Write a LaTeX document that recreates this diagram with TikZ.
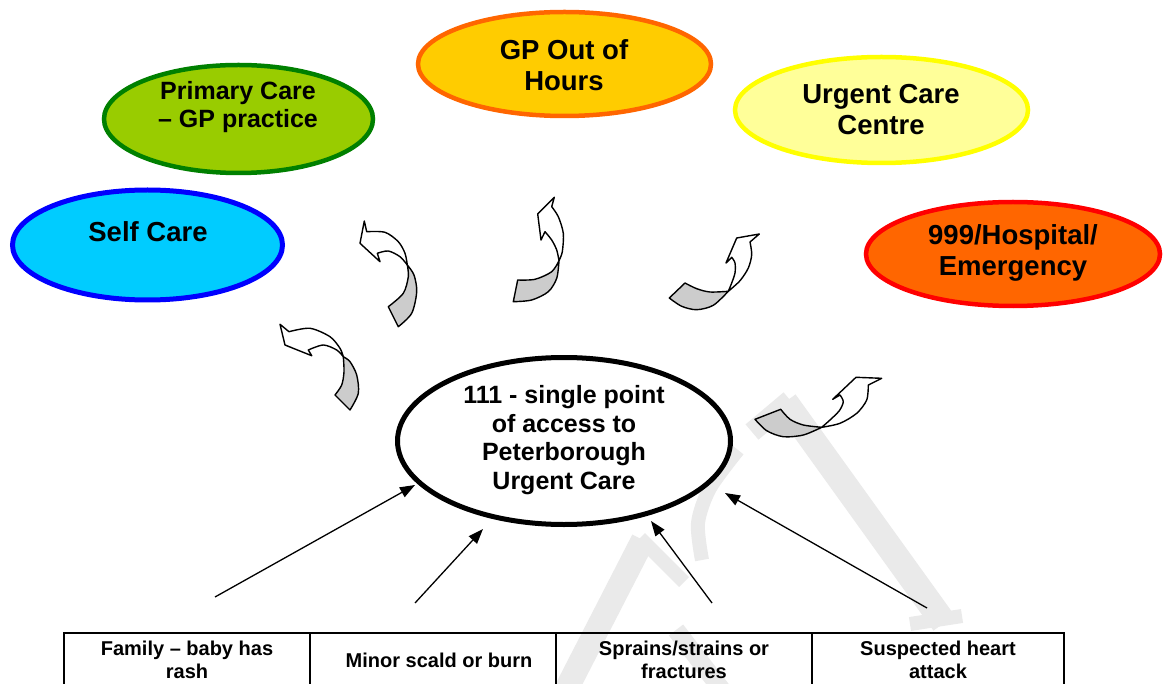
\documentclass[tikz,border=0pt]{standalone}
\usepackage{fontspec}
\setmainfont{Liberation Sans}
\usetikzlibrary{shapes.geometric,arrows.meta}
\definecolor{scfill}{RGB}{0,204,255}
\definecolor{scdraw}{RGB}{0,0,255}
\definecolor{pcfill}{RGB}{153,204,0}
\definecolor{pcdraw}{RGB}{0,128,0}
\definecolor{gpfill}{RGB}{255,204,0}
\definecolor{gpdraw}{RGB}{255,102,0}
\definecolor{ucfill}{RGB}{255,255,153}
\definecolor{ucdraw}{RGB}{255,255,0}
\definecolor{emfill}{RGB}{255,102,0}
\definecolor{emdraw}{RGB}{255,0,0}
\definecolor{ribgray}{RGB}{204,204,204}
\definecolor{wmark}{RGB}{234,234,234}
\begin{document}
\begin{tikzpicture}[x=1pt,y=-1pt,
  bub/.style={ellipse, draw, inner sep=0pt},
  lblbig/.style={font=\bfseries\fontsize{27.5}{31}\selectfont, align=center, inner sep=0pt},
  lblmid/.style={font=\bfseries\fontsize{25}{28.5}\selectfont, align=center, inner sep=0pt},
  tbl/.style={font=\bfseries\fontsize{20}{23}\selectfont, align=center, inner sep=0pt},
  conn/.style={line width=1.3pt, -{Triangle[length=15pt,width=11pt]}},
  ribw/.style={draw=black, fill=white, line width=1.4pt, line join=round},
  ribg/.style={draw=black, fill=ribgray, line width=1.4pt, line join=round},
  wm/.style={draw=wmark, line cap=butt}
]
\useasboundingbox (0,0) rectangle (1166,684);
\fill[white] (0,0) rectangle (1166,684);

% watermark (faint)
\draw[wm, line width=26pt] (785,402) -- (944,623);
\draw[wm, line width=20pt] (790,400) -- (752,432);
\draw[wm, line width=14pt] (910,624) -- (962,616);
\draw[wm, line width=14pt] plot[smooth] coordinates {(738,450) (710,488) (698,523) (702,560)};
\draw[wm, line width=24pt] (643,540) -- (566,690);
\draw[wm, line width=14pt] (640,538) -- (684,582);
\draw[wm, line width=18pt] (676,630) -- (722,690);

% destination ellipses
\node[bub, fill=scfill, draw=scdraw, line width=5pt, minimum width=270pt, minimum height=110pt] (self) at (147.5,245) {};
\node[bub, fill=pcfill, draw=pcdraw, line width=4.5pt, minimum width=269pt, minimum height=108pt] (prim) at (238.5,119) {};
\node[bub, fill=gpfill, draw=gpdraw, line width=4.5pt, minimum width=293pt, minimum height=104pt] (gp) at (564.5,64) {};
\node[bub, fill=ucfill, draw=ucdraw, line width=4.5pt, minimum width=293pt, minimum height=106pt] (ucc) at (881.5,110) {};
\node[bub, fill=emfill, draw=emdraw, line width=4.5pt, minimum width=294pt, minimum height=104pt] (emg) at (1013,254) {};

\node[lblbig] (tself) at (148,232) {Self Care};
\node[lblmid] (tprim) at (238,107) {Primary Care\\– GP practice};
\node[lblbig] (tgp) at (564,65) {GP Out of\\Hours};
\node[lblbig] (tucc) at (881,110) {Urgent Care\\Centre};
\node[lblbig] (temg) at (1013,253) {999/Hospital/\\Emergency};

% central hub
\node[bub, fill=white, draw=black, line width=5pt, minimum width=333pt, minimum height=167pt] (hub) at (564,441) {};
\node[lblmid] (thub) at (564,440) {111 - single point\\of access to\\Peterborough\\Urgent Care};

% curved ribbon arrows
% 1
\draw[ribg] plot[smooth] coordinates {(343.3,356.7) (344,371.7) (341.7,385) (335,395)} -- (350,410) -- plot[smooth] coordinates {(350,410) (358.3,393.3) (356.7,375) (350,361.7) (343.3,356.7)} -- cycle;
\draw[ribw] (280,324.3) -- (289,331.7) -- plot[smooth] coordinates {(289,331.7) (310,328.3) (330,336.7) (340,348.3) (343.3,356.7)} -- plot[smooth] coordinates {(343.3,356.7) (336.7,350) (323.3,345) (308.3,350)} -- (311.7,355.7) -- (285,345) -- cycle;
% 2
\draw[ribg] plot[smooth] coordinates {(407.3,265) (408.3,276.7) (403.3,293.3) (388.3,306.7)} -- (398.3,326.7) -- plot[smooth] coordinates {(398.3,326.7) (411.7,313.3) (416.7,291.7) (414,275) (407.3,265)} -- cycle;
\draw[ribw] (364.3,221) -- (366.7,231.7) -- plot[smooth] coordinates {(366.7,231.7) (385,232.3) (398.3,241.7) (405,253.3) (407.3,265)} -- plot[smooth] coordinates {(407.3,265) (400,256.7) (388.3,251) (377.3,253.3)} -- (380,261.7) -- (360,243.3) -- cycle;
% 3
\draw[ribg] plot[smooth] coordinates {(559,260.7) (551.7,271.7) (535,279.3) (517.7,280)} -- (513.3,301.7) -- plot[smooth] coordinates {(513.3,301.7) (531.7,300) (548.3,291.7) (556.7,278.3) (559,260.7)} -- cycle;
\draw[ribw] (554.3,197.3) -- (551.7,206.7) -- plot[smooth] coordinates {(551.7,206.7) (558.3,216.7) (563.3,233.3) (562.3,251.7) (559,260.7)} -- plot[smooth] coordinates {(559,260.7) (556.7,250) (551.7,240) (545,231.7)} -- (541,240) -- (537.7,214) -- cycle;
% 4
\draw[ribg] plot[smooth] coordinates {(728.3,291.3) (710,292) (696.7,288.7) (685,283)} -- (669.3,298) -- plot[smooth] coordinates {(669.3,298) (681.7,306.3) (696.7,309.7) (713.3,305.3) (728.3,291.3)} -- cycle;
\draw[ribw] (759.3,234) -- (750,242) -- plot[smooth] coordinates {(750,242) (751.7,254.7) (748.3,268) (740,280.7) (728.3,291.3)} -- plot[smooth] coordinates {(728.3,291.3) (731.7,283) (735,273) (735,263) (731.7,257.3)} -- (726,263) -- (736.7,238) -- cycle;
% 5
\draw[ribg] plot[smooth] coordinates {(821.7,427.3) (803.3,425) (790,419.3) (780.7,409.3)} -- (755,419.3) -- plot[smooth] coordinates {(755,419.3) (766.7,430.7) (783.3,436.7) (803.3,435) (821.7,427.3)} -- cycle;
\draw[ribw] (881.7,378.3) -- (868.3,385) -- plot[smooth] coordinates {(868.3,385) (866.7,400) (856.7,413.3) (840,423.3) (821.7,427.3)} -- plot[smooth] coordinates {(821.7,427.3) (830,420) (839.3,410.7) (843.3,401.7) (840,395)} -- (832.7,399.3) -- (856,377.3) -- cycle;

% table
\draw[line width=2.2pt] (63,633) -- (1065,633);
\foreach \xx in {64,310,556,812,1064} \draw[line width=1.5pt] (\xx,633) -- (\xx,690);
\node[tbl] (c1) at (187,659.5) {Family – baby has\\rash};
\node[tbl] (c2) at (439,660) {Minor scald or burn};
\node[tbl] (c3) at (684,659.5) {Sprains/strains or\\fractures};
\node[tbl] (c4) at (938,659.5) {Suspected heart\\attack};

% straight arrows into hub
\coordinate (s1) at (215,597);
\coordinate (e1) at (415,485);
\coordinate (s2) at (415,603);
\coordinate (e2) at (483,529);
\coordinate (s3) at (712,603);
\coordinate (e3) at (651,521);
\coordinate (s4) at (927,608);
\coordinate (e4) at (725,493);
\draw[conn] (s1) -- (e1);
\draw[conn] (s2) -- (e2);
\draw[conn] (s3) -- (e3);
\draw[conn] (s4) -- (e4);
\end{tikzpicture}
\end{document}
